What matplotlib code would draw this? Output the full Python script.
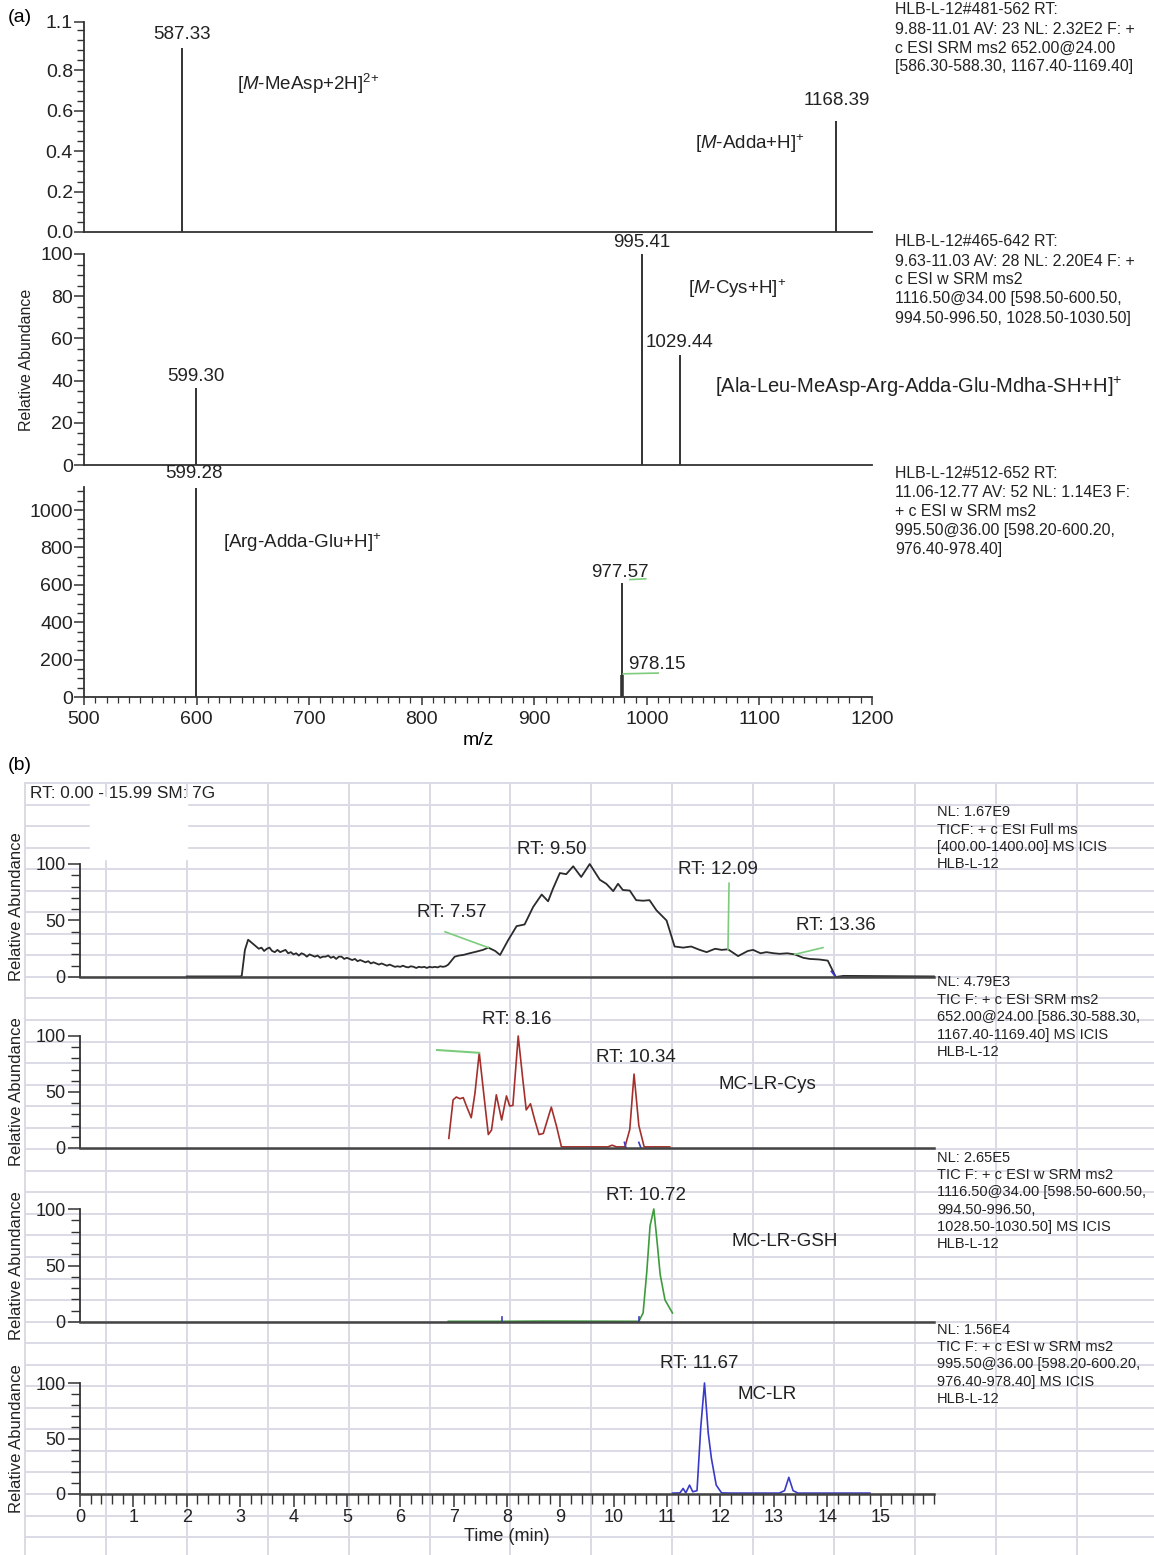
import numpy as np
import matplotlib
matplotlib.use('Agg')
import matplotlib.pyplot as plt
from matplotlib.patches import Rectangle
from matplotlib.ticker import MultipleLocator

plt.rcParams['font.family'] = ['Liberation Sans', 'DejaVu Sans']
plt.rcParams['mathtext.fontset'] = 'custom'
plt.rcParams['mathtext.rm'] = 'Liberation Sans'
plt.rcParams['mathtext.it'] = 'Liberation Sans:italic'

# ---------------- (a) product ion spectra ----------------
mz_a1 = [587.33, 1168.39]
int_a1 = [0.91, 0.55]
mz_a2 = [599.30, 995.41, 1029.44]
int_a2 = [36.5, 100, 52]
mz_a3 = [599.28, 977.57, 978.15]
int_a3 = [1120, 610, 118]

info_a1 = ["HLB-L-12#481-562 RT:", "9.88-11.01 AV: 23 NL: 2.32E2 F: +",
           "c ESI SRM ms2 652.00@24.00", "[586.30-588.30, 1167.40-1169.40]"]
info_a2 = ["HLB-L-12#465-642 RT:", "9.63-11.03 AV: 28 NL: 2.20E4 F: +",
           "c ESI w SRM ms2", "1116.50@34.00 [598.50-600.50,",
           "994.50-996.50, 1028.50-1030.50]"]
info_a3 = ["HLB-L-12#512-652 RT:", "11.06-12.77 AV: 52 NL: 1.14E3 F:",
           "+ c ESI w SRM ms2", "995.50@36.00 [598.20-600.20,", "976.40-978.40]"]

# ---------------- (b) chromatograms ----------------
t_tic = [2.0, 3.0, 3.03, 3.09, 3.15, 3.20, 3.25, 3.30, 3.35, 3.40, 3.45, 3.50, 3.55,
         3.60, 3.65, 3.70, 3.75, 3.80, 3.85, 3.90, 3.95, 4.00, 4.05, 4.10, 4.15, 4.20,
         4.25, 4.30, 4.35, 4.40, 4.45, 4.50, 4.55, 4.60, 4.65, 4.70, 4.75, 4.80, 4.85,
         4.90, 4.95, 5.00, 5.05, 5.10, 5.15, 5.20, 5.25, 5.30, 5.35, 5.40, 5.45, 5.50,
         5.55, 5.60, 5.65, 5.70, 5.75, 5.80, 5.85, 5.90, 5.95, 6.00, 6.05, 6.10, 6.15,
         6.20, 6.25, 6.30, 6.35, 6.40, 6.45, 6.50, 6.55, 6.60, 6.65, 6.70, 6.75, 6.80,
         6.85, 6.90, 7.02, 7.10, 7.18, 7.30, 7.43, 7.55, 7.65, 7.78, 7.87, 8.02, 8.18,
         8.33, 8.49, 8.65, 8.77, 8.86, 8.99, 9.11, 9.24, 9.39, 9.55, 9.74, 9.86, 9.99,
         10.08, 10.17, 10.30, 10.42, 10.55, 10.67, 10.80, 10.99, 11.14, 11.30, 11.45,
         11.61, 11.74, 11.90, 12.02, 12.14, 12.33, 12.51, 12.61, 12.75, 12.86, 13.00,
         13.11, 13.25, 13.39, 13.55, 13.67, 13.85, 14.01, 14.16, 14.30, 16.0]
v_tic = [0.5, 0.5, 1, 24, 33, 31, 29, 27, 25, 26, 23, 25, 26,
         23, 22, 24, 22, 23, 24, 21, 22, 20, 21, 19, 21, 20,
         18, 20, 19, 18, 19, 17, 18, 18, 19, 17, 18, 16, 18,
         18, 16, 17, 16, 15, 16, 14, 15, 14, 13, 14, 12, 13,
         12, 11, 12, 11, 10, 11, 10, 9, 9.5, 9, 10, 9, 8.5,
         9.5, 9, 8, 9, 8.5, 9, 8, 9, 8.5, 9, 8.5, 9.5, 9,
         9.5, 11, 18, 19, 19.5, 21, 22.5, 24, 26, 23, 19.5, 32.5, 45,
         46.5, 62, 73, 67, 78, 92, 91, 98, 88.5, 100, 86, 82.5, 76,
         82.5, 77, 76.5, 68, 67.5, 68, 59, 50, 27, 26, 27,
         24, 22, 25, 24, 24.5, 18.5, 23, 24, 21, 22, 21,
         20.5, 21, 20, 17, 16, 15.5, 14.5, 0, 1, 0.5]

t_cys = [6.91, 6.99, 7.05, 7.12, 7.18, 7.24, 7.33, 7.40, 7.48, 7.57, 7.65, 7.71, 7.80,
         7.90, 7.99, 8.05, 8.11, 8.21, 8.29, 8.36, 8.44, 8.52, 8.60, 8.68, 8.83, 8.93,
         9.02, 9.89, 9.97, 10.05, 10.21, 10.30, 10.38, 10.47, 10.57, 11.05]
v_cys = [8.6, 43, 45.5, 44, 45, 37.5, 27, 49, 85, 46, 12, 16, 47.5,
         25, 46.5, 37.5, 38, 100, 64, 34, 39.5, 25, 12, 13, 36.5, 19,
         1, 1, 2.5, 1, 1, 16.5, 66, 20, 1, 1]

t_gsh = [6.9, 7.9, 8.7, 10.47, 10.55, 10.62, 10.68, 10.75, 10.81, 10.87, 10.96, 11.1]
v_gsh = [0.6, 0.6, 0.8, 0.6, 8, 45, 85, 100, 72, 42, 19.5, 8]

t_lr = [11.1, 11.24, 11.3, 11.35, 11.42, 11.48, 11.56, 11.63, 11.70, 11.77, 11.83,
        11.92, 12.02, 12.2, 13.1, 13.2, 13.28, 13.36, 13.45, 14.8]
v_lr = [0.8, 1, 5, 1, 8, 2, 3, 60, 100, 55, 32, 8, 1, 0.8, 0.8, 3, 15, 3, 0.8, 0.8]

info_b1 = ["NL: 1.67E9", "TICF: + c ESI Full ms", "[400.00-1400.00] MS ICIS", "HLB-L-12"]
info_b2 = ["NL: 4.79E3", "TIC F: + c ESI SRM ms2", "652.00@24.00 [586.30-588.30,",
           "1167.40-1169.40] MS ICIS", "HLB-L-12"]
info_b3 = ["NL: 2.65E5", "TIC F: + c ESI w SRM ms2", "1116.50@34.00 [598.50-600.50,",
           "994.50-996.50,", "1028.50-1030.50] MS ICIS", "HLB-L-12"]
info_b4 = ["NL: 1.56E4", "TIC F: + c ESI w SRM ms2", "995.50@36.00 [598.20-600.20,",
           "976.40-978.40] MS ICIS", "HLB-L-12"]

W, H = 1154, 1555
fig = plt.figure(figsize=(W / 100, H / 100), dpi=100)
DARK = '#333333'
GREEN = '#7dcc7d'


def add_ax(x0, y0, x1, y1):
    # box in pixels (left, top, right, bottom)
    ax = fig.add_axes([x0 / W, 1 - y1 / H, (x1 - x0) / W, (y1 - y0) / H])
    ax.patch.set_alpha(0)
    for s in ['top', 'right']:
        ax.spines[s].set_visible(False)
    for s in ['left', 'bottom']:
        ax.spines[s].set_color(DARK)
        ax.spines[s].set_linewidth(1.3)
    return ax


def ftext(x, y, s, **kw):
    fig.text(x / W, 1 - y / H, s, **kw)


def info(x, y0, dy, lines, size):
    for i, line in enumerate(lines):
        ftext(x, y0 + i * dy, line, fontsize=size, va='center', color='#222222')


# background grid behind panel (b)
bg = fig.add_axes([0, 0, 1, 1], zorder=-1)
bg.set_xlim(0, W)
bg.set_ylim(H, 0)
bg.axis('off')
for y in np.arange(783, H, 21.545):
    bg.plot([25, W], [y, y], color='#dadae6', lw=1.4)
for x in np.arange(25, W, 80.9):
    bg.plot([x, x], [783, H], color='#dadae6', lw=1.4)
bg.add_patch(Rectangle((90, 797), 97, 62, color='white', zorder=3))

# ---------- panel (a) ----------
ax1 = add_ax(84, 22, 872, 232)
ax2 = add_ax(84, 254, 872, 465)
ax3 = add_ax(84, 487, 872, 697)

for ax in [ax1, ax2, ax3]:
    ax.set_xlim(500, 1200)
    ax.tick_params(axis='y', which='major', length=7, width=1.1, color=DARK,
                   labelsize=14, pad=1, labelcolor='#222222')
    ax.tick_params(axis='y', which='minor', length=5, width=1.0, color=DARK)

ax1.set_ylim(0, 1.04)
ax1.set_yticks([0, 0.2, 0.4, 0.6, 0.8, 1.04])
ax1.set_yticklabels(['0.0', '0.2', '0.4', '0.6', '0.8', '1.1'])
ax1.yaxis.set_minor_locator(MultipleLocator(0.05))
ax2.set_ylim(0, 100)
ax2.yaxis.set_major_locator(MultipleLocator(20))
ax2.yaxis.set_minor_locator(MultipleLocator(5))
ax3.set_ylim(0, 1123)
ax3.set_yticks([0, 200, 400, 600, 800, 1000])
ax3.yaxis.set_minor_locator(MultipleLocator(50))

for ax in [ax1, ax2]:
    ax.tick_params(axis='x', which='both', bottom=False, labelbottom=False)
ax3.xaxis.set_major_locator(MultipleLocator(100))
ax3.xaxis.set_minor_locator(MultipleLocator(10))
ax3.tick_params(axis='x', which='major', length=6, width=1.1, color=DARK,
                labelsize=14, pad=4, labelcolor='#222222')
ax3.tick_params(axis='x', which='minor', length=4, width=0.9, color=DARK)
ax3.set_xlabel('m/z', fontsize=14, labelpad=3)
ax2.set_ylabel('Relative Abundance', fontsize=11.5, color='#222222')
ax2.yaxis.set_label_coords(-0.063, 0.5)

ax1.vlines(mz_a1, 0, int_a1, color=DARK, lw=1.4)
ax2.vlines(mz_a2, 0, int_a2, color=DARK, lw=1.4)
ax3.vlines(mz_a3, 0, int_a3, color=DARK, lw=1.4)
ax3.vlines(mz_a3[2], 0, int_a3[2], color=DARK, lw=2.6)

lab = dict(textcoords='offset points', fontsize=13.5, va='center', color='#222222',
           annotation_clip=False)
ax1.annotate('587.33', (mz_a1[0], int_a1[0]), xytext=(0, 10), ha='center', **lab)
ax1.annotate('1168.39', (mz_a1[1], int_a1[1]), xytext=(0, 14.5), ha='center', **lab)
ax2.annotate('599.30', (mz_a2[0], int_a2[0]), xytext=(0, 8.6), ha='center', **lab)
ax2.annotate('995.41', (mz_a2[1], int_a2[1]), xytext=(0, 8), ha='center', **lab)
ax2.annotate('1029.44', (mz_a2[2], int_a2[2]), xytext=(0, 9.4), ha='center', **lab)
ax3.annotate('599.28', (mz_a3[0], 1123), xytext=(-1, 9.4), ha='center', **lab)
ax3.annotate('977.57', (mz_a3[1], int_a3[1]), xytext=(-1, 7.2), ha='center', **lab)
ax3.annotate('978.15', (mz_a3[2], int_a3[2]), xytext=(4.5, 7.2), ha='left', **lab)
ax3.plot([985, 999], [628, 632], color=GREEN, lw=1.2)
ax3.plot([979, 1010], [124, 128], color=GREEN, lw=1.2)

ion = dict(fontsize=13.5, va='center', color='#222222')
ftext(237, 84, r'[$\mathit{M}$-MeAsp+2H]$^{2{+}}$', **ion)
ftext(695, 144, r'[$\mathit{M}$-Adda+H]$^{+}$', **ion)
ftext(688, 289, r'[$\mathit{M}$-Cys+H]$^{+}$', **ion)
ftext(715, 387, r'[Ala-Leu-MeAsp-Arg-Adda-Glu-Mdha-SH+H]$^{+}$', fontsize=14.5,
      va='center', color='#222222')
ftext(223, 543, r'[Arg-Adda-Glu+H]$^{+}$', **ion)

info(895, 10, 19, info_a1, 11.4)
info(895, 242, 19, info_a2, 11.4)
info(895, 474, 18.8, info_a3, 11.4)
ftext(8, 17, '(a)', fontsize=14, va='center')
ftext(8, 765, '(b)', fontsize=14, va='center')

# ---------- panel (b) ----------
bx1 = add_ax(80, 864, 934, 977)
bx2 = add_ax(80, 1036, 934, 1148)
bx3 = add_ax(80, 1209, 934, 1322)
bx4 = add_ax(80, 1383, 934, 1494)

for ax in [bx1, bx2, bx3, bx4]:
    ax.set_xlim(0, 16)
    ax.set_ylim(0, 100)
    ax.set_yticks([0, 50, 100])
    ax.yaxis.set_minor_locator(MultipleLocator(10))
    ax.tick_params(axis='y', which='major', length=9, width=1.1, color=DARK,
                   labelsize=13, pad=1.5, labelcolor='#222222')
    ax.tick_params(axis='y', which='minor', length=6.5, width=1.0, color=DARK)
    ax.spines['bottom'].set_color('#444444')
    ax.spines['bottom'].set_linewidth(1.8)
    ax.set_ylabel('Relative Abundance', fontsize=12, color='#222222')
    ax.yaxis.set_label_coords(-0.066, 0.5)
bx1.yaxis.set_label_coords(-0.066, 0.62)
for ax in [bx1, bx2, bx3]:
    ax.tick_params(axis='x', which='both', bottom=False, labelbottom=False)
bx4.set_xticks(range(16))
bx4.xaxis.set_minor_locator(MultipleLocator(0.2))
bx4.tick_params(axis='x', which='major', length=9, width=1.1, color=DARK,
                labelsize=13, pad=1.5, labelcolor='#222222')
bx4.tick_params(axis='x', which='minor', length=7, width=1.0, color=DARK)
bx4.set_xlabel('Time (min)', fontsize=13, labelpad=2, color='#222222')

bx1.plot(t_tic, v_tic, color='#2b2b2b', lw=1.3, clip_on=False)
bx2.plot(t_cys, v_cys, color='#a3302c', lw=1.2, clip_on=False)
bx3.plot(t_gsh, v_gsh, color='#3c9c3c', lw=1.2, clip_on=False)
bx4.plot(t_lr, v_lr, color='#3a3ac8', lw=1.2, clip_on=False)

# peak-label leader lines
bx1.plot([6.84, 7.65], [40, 26], color=GREEN, lw=1.2)
bx1.plot([12.16, 12.14], [83, 24.5], color=GREEN, lw=1.2)
bx1.plot([13.92, 13.39], [26, 20], color=GREEN, lw=1.2)
bx2.plot([6.69, 7.48], [87.5, 85], color=GREEN, lw=1.5)
# peak boundary ticks
bx2.plot([10.20, 10.23], [5, 0], color='#3a3ac8', lw=1.2)
bx2.plot([10.47, 10.51], [5, 0], color='#3a3ac8', lw=1.2)
bx3.plot([7.9, 7.9], [4, 0], color='#3a3ac8', lw=1.2)
bx3.plot([10.48, 10.48], [4, 0], color='#3a3ac8', lw=1.2)
bx1.plot([14.08, 14.16], [5, 0], color='#3a3ac8', lw=1.4)

rt = dict(fontsize=13.5, ha='center', va='center', color='#222222', clip_on=False)
bx1.text(6.97, 57.5, 'RT: 7.57', **rt)
bx1.text(8.84, 113, 'RT: 9.50', **rt)
bx1.text(11.95, 95, 'RT: 12.09', **rt)
bx1.text(14.16, 46, 'RT: 13.36', **rt)
bx2.text(8.18, 115, 'RT: 8.16', **rt)
bx2.text(10.41, 81, 'RT: 10.34', **rt)
bx2.text(12.87, 57, 'MC-LR-Cys', **rt)
bx3.text(10.6, 112, 'RT: 10.72', **rt)
bx3.text(13.2, 71, 'MC-LR-GSH', **rt)
bx4.text(11.61, 118, 'RT: 11.67', **rt)
bx4.text(12.88, 90, 'MC-LR', **rt)

ftext(30, 793, 'RT: 0.00 - 15.99 SM: 7G', fontsize=12.4, va='center', color='#222222')
info(937, 812, 17.5, info_b1, 10.5)
info(937, 982, 17.5, info_b2, 10.5)
info(937, 1158, 17.2, info_b3, 10.5)
info(937, 1330, 17.2, info_b4, 10.5)

plt.savefig('out.png', dpi=100)
